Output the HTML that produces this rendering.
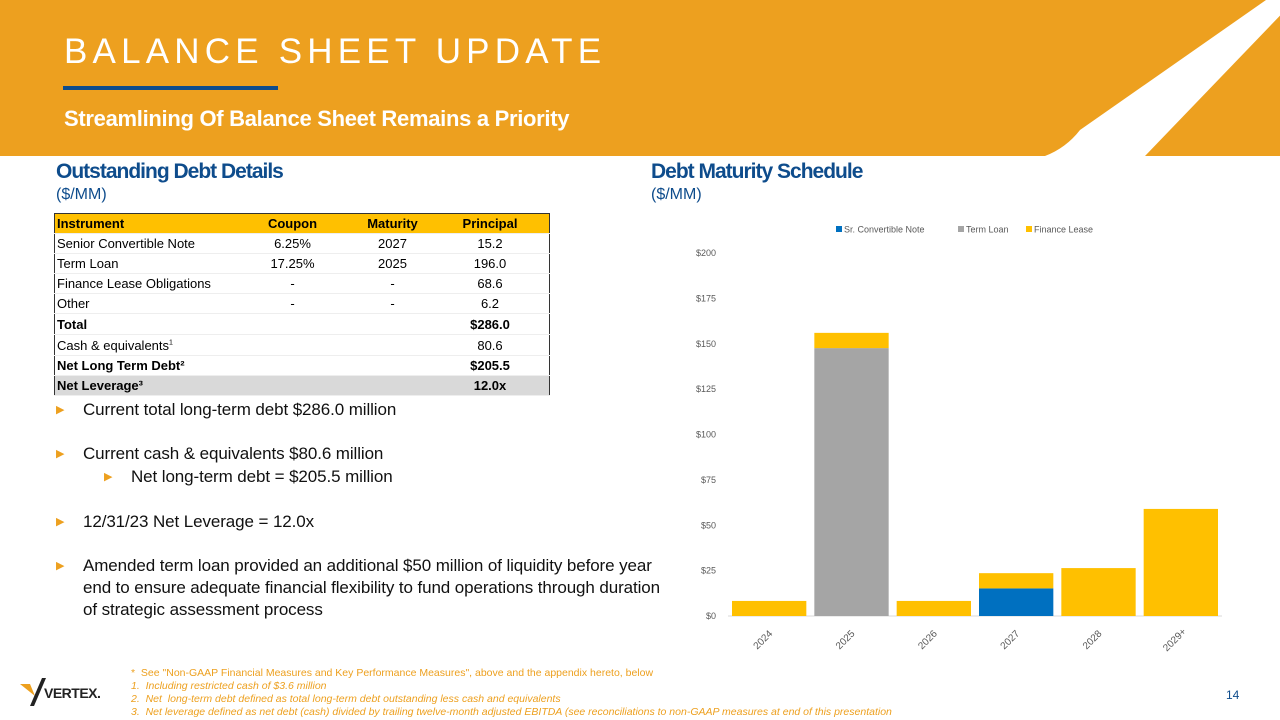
<!DOCTYPE html>
<html><head><meta charset="utf-8"><style>
body{margin:0;width:1280px;height:720px;position:relative;overflow:hidden;background:#fff;font-family:"Liberation Sans",sans-serif}
.abs{position:absolute}
table{border-collapse:collapse;font-size:13px;color:#000}
td{height:19px;padding:0 2px;border-bottom:1px solid #eee;white-space:nowrap}
.c{text-align:center}
.b{font-weight:bold}
.bul{position:absolute;left:83px;font-size:17px;color:#111;letter-spacing:-0.1px;line-height:22px;white-space:nowrap}
.bul .t{position:absolute;left:-27px;top:0;color:#EDA01F;font-size:11px}
.ft{font-size:10.5px;color:#EDA01F;font-style:italic;position:absolute;left:131px;white-space:nowrap}
</style></head><body>
<svg class="abs" style="left:0;top:0" width="1280" height="156">
<rect x="0" y="0" width="1280" height="156" fill="#EDA01F"/>
<path d="M1266,0 L1295,0 L1145,156 L1045,156 Q1066,148 1080,130 Z" fill="#fff"/>
<rect x="63" y="86" width="215" height="4" fill="#0E4C8C"/>
</svg>
<div class="abs" style="left:64px;top:32px;font-size:35px;color:#fff;letter-spacing:5.2px;white-space:nowrap">BALANCE SHEET UPDATE</div>
<div class="abs" style="left:64px;top:106px;font-size:22px;color:#fff;font-weight:bold;letter-spacing:-0.3px;white-space:nowrap">Streamlining Of Balance Sheet Remains a Priority</div>
<div class="abs" style="left:56px;top:160px;font-size:21px;color:#0E4C8C;font-weight:bold;letter-spacing:-1px">Outstanding Debt Details</div>
<div class="abs" style="left:56px;top:186px;font-size:16px;color:#0E4C8C">($/MM)</div>
<div class="abs" style="left:651px;top:160px;font-size:21px;color:#0E4C8C;font-weight:bold;letter-spacing:-1px">Debt Maturity Schedule</div>
<div class="abs" style="left:651px;top:186px;font-size:16px;color:#0E4C8C">($/MM)</div>

<table class="abs" style="left:54px;top:213px;width:496px;border:1px solid #333">
<tr style="background:#FFC000" class="b"><td style="width:172px">Instrument</td><td class="c" style="width:119px">Coupon</td><td class="c" style="width:73px">Maturity</td><td class="c">Principal</td></tr>
<tr><td>Senior Convertible Note</td><td class="c">6.25%</td><td class="c">2027</td><td class="c">15.2</td></tr>
<tr><td>Term Loan</td><td class="c">17.25%</td><td class="c">2025</td><td class="c">196.0</td></tr>
<tr><td>Finance Lease Obligations</td><td class="c">-</td><td class="c">-</td><td class="c">68.6</td></tr>
<tr style="border-bottom:1px dotted #555"><td>Other</td><td class="c">-</td><td class="c">-</td><td class="c">6.2</td></tr>
<tr class="b" style="border-bottom:1px dotted #555"><td style="height:20px">Total</td><td></td><td></td><td class="c">$286.0</td></tr>
<tr><td style="height:20px">Cash &amp; equivalents<sup style="font-size:7px">1</sup></td><td></td><td></td><td class="c">80.6</td></tr>
<tr class="b" style="border-bottom:1px solid #333"><td>Net Long Term Debt²</td><td></td><td></td><td class="c">$205.5</td></tr>
<tr class="b" style="background:#D9D9D9"><td>Net Leverage³</td><td></td><td></td><td class="c">12.0x</td></tr>
</table>

<div class="bul" style="top:399px"><span class="t">▶</span>Current total long-term debt $286.0 million</div>
<div class="bul" style="top:443px"><span class="t">▶</span>Current cash &amp; equivalents $80.6 million</div>
<div class="bul" style="top:466px;left:131px"><span class="t">▶</span>Net long-term debt = $205.5 million</div>
<div class="bul" style="top:511px"><span class="t">▶</span>12/31/23 Net Leverage = 12.0x</div>
<div class="bul" style="top:555px"><span class="t">▶</span>Amended term loan provided an additional $50 million of liquidity before year<br>end to ensure adequate financial flexibility to fund operations through duration<br>of strategic assessment process</div>

<svg class="abs" id="chart" style="left:690px;top:215px" width="560" height="440"></svg>

<div class="abs" style="left:18px;top:676px;width:110px;height:32px">
<svg width="110" height="32"><path d="M2,8 L12,8 L17,20 Z" fill="#EDA01F"/><path d="M12,30 L24,2 L28,2 L16,30 Z" fill="#222"/></svg>
<span style="position:absolute;left:26px;top:9px;font-size:14px;font-weight:bold;color:#222;letter-spacing:-0.5px">VERTEX.</span></div>
<div class="ft" style="top:667px;font-style:normal">*&nbsp; See "Non-GAAP Financial Measures and Key Performance Measures", above and the appendix hereto, below</div>
<div class="ft" style="top:680px">1.&nbsp; Including restricted cash of $3.6 million</div>
<div class="ft" style="top:693px">2.&nbsp; Net&nbsp; long-term debt defined as total long-term debt outstanding less cash and equivalents</div>
<div class="ft" style="top:706px">3.&nbsp; Net leverage defined as net debt (cash) divided by trailing twelve-month adjusted EBITDA (see reconciliations to non-GAAP measures at end of this presentation</div>
<div class="abs" style="left:1226px;top:688px;font-size:12px;color:#0E4C8C">14</div>

<script>
const categories=["2024","2025","2026","2027","2028","2029+"];
const convertible=[0,0,0,15.2,0,0];
const termLoan=[0,147.6,0,0,0,0];
const financeLease=[8.3,8.4,8.3,8.4,26.4,59.0];
const yTicks=[0,25,50,75,100,125,150,175,200];
const seriesNames=["Sr. Convertible Note","Term Loan","Finance Lease"];
const colors=["#0070C0","#A5A5A5","#FFC000"];
const svg=document.getElementById('chart');const NS="http://www.w3.org/2000/svg";
const x0=38,x1=532,y0=401,yTop=38;
const y=v=>y0-(v/200)*(y0-yTop);
const bw=(x1-x0)/categories.length;
function mk(t,a){const e=document.createElementNS(NS,t);for(const k in a)e.setAttribute(k,a[k]);svg.appendChild(e);return e;}
yTicks.forEach(v=>{const t=mk('text',{x:26,y:y(v)+3,'text-anchor':'end','font-size':9,fill:'#595959','font-family':'Liberation Sans'});t.textContent='$'+v;

});
const ax=mk('line',{x1:x0,x2:x1,y1:y0,y2:y0,stroke:'#D9D9D9'});


const series=[convertible,termLoan,financeLease];
categories.forEach((c,i)=>{let base=0;const bx=x0+i*bw+4;
series.forEach((s,j)=>{if(s[i]>0){const r=mk('rect',{x:bx,y:y(base+s[i]),width:bw-8,height:y(base)-y(base+s[i]),fill:colors[j]});

base+=s[i];}});
const cx=x0+(i+0.5)*bw-4,cy=y0+26;
const t=mk('text',{x:cx,y:cy,'text-anchor':'middle','font-size':10,fill:'#595959','font-family':'Liberation Sans',transform:`rotate(-45 ${cx} ${cy})`});t.textContent=c;

});
let lx=146;seriesNames.forEach((n,j)=>{const r=mk('rect',{x:lx,y:11,width:6,height:6,fill:colors[j]});


const t=mk('text',{x:lx+8,y:17.5,'font-size':9,fill:'#595959','font-family':'Liberation Sans'});t.textContent=n;


lx+=[122,68,0][j];});
</script>
</body></html>
